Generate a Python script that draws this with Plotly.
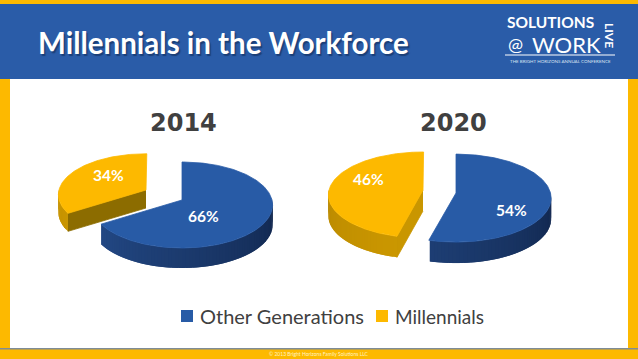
import numpy as np
import plotly.graph_objects as go

# --- data ---
categories = ["Other Generations", "Millennials"]
years = ["2014", "2020"]
values_2014 = [66, 34]
values_2020 = [54, 46]

# --- style ---
BLUE, GOLD = "#285BA6", "#FDB900"
BG_BLUE = "#2A5CA8"
INK = "#404040"
K = 0.116   # perspective
STEP = 2

fig = go.Figure()


def lerp(c1, c2, t):
    a = [int(c1[i:i + 2], 16) for i in (1, 3, 5)]
    b = [int(c2[i:i + 2], 16) for i in (1, 3, 5)]
    return "#%02x%02x%02x" % tuple(int(round(x + (y - x) * t)) for x, y in zip(a, b))


def rim(deg, g):
    th = np.radians(deg)
    s = 1 - K * np.cos(th)
    return g["cx"] + g["rx"] * np.sin(th) * s, g["cy"] - g["ry"] * np.cos(th) * s


def poly(xs, ys, color, width=0.8):
    fig.add_trace(go.Scatter(x=list(xs), y=list(ys), mode="lines", fill="toself", fillcolor=color,
                             line=dict(color=color, width=width), hoverinfo="skip", showlegend=False))


def slice3d(start, end, g, color, wall_a, wall_b, cut=None):
    # outer wall: only the part facing the viewer (90..270 deg clockwise from top)
    w0, w1 = max(start, 90), min(end, 270)
    if cut:
        ex, ey = rim(start, g)
        poly([g["cx"], ex, ex, g["cx"]], [g["cy"], ey, ey + g["d"], g["cy"] + g["d"]], cut)
    if w1 > w0:
        edges = np.arange(w0, w1 + STEP, STEP)
        edges[-1] = w1
        for a, b in zip(edges[:-1], edges[1:]):
            # each quad runs to the far end of the next so no seams show
            xa, ya = rim(a, g)
            xb, yb = rim(min(b + STEP, w1), g)
            t = (270 - (a + b) / 2) / 180
            poly([xa, xb, xb, xa], [ya, yb, yb + g["d"], ya + g["d"]], lerp(wall_a, wall_b, t), width=0)
    th = np.arange(start, end + 1, 1.0)
    px, py = rim(th, g)
    poly(np.r_[g["cx"], px, g["cx"]], np.r_[g["cy"], py, g["cy"]], color)


def pie(values, blue_geo, gold_geo, gold_cut, gold_wall):
    split = 360 * values[0] / sum(values)
    slice3d(0, split, blue_geo, BLUE, "#264F90", "#11264C")
    slice3d(split, 360, gold_geo, GOLD, *gold_wall, cut=gold_cut)


pie(values_2014,
    dict(cx=182, cy=200, rx=90, ry=43, d=20),
    dict(cx=146, cy=190, rx=87, ry=41, d=18),
    "#8C6C00", ("#C59200", "#D8A200"))
pie(values_2020,
    dict(cx=456, cy=193, rx=94.5, ry=44, d=21),
    dict(cx=423, cy=190, rx=94, ry=43, d=21),
    "#C99600", ("#B98900", "#E3AA00"))

shapes = [
    dict(type="rect", x0=0, x1=638, y0=4, y1=79, fillcolor=BG_BLUE, line_width=0, layer="below"),
    dict(type="rect", x0=10, x1=628, y0=79, y1=349, fillcolor="#FFFFFF", line_width=0, layer="below"),
    dict(type="rect", x0=0, x1=638, y0=348, y1=349.5, fillcolor="#7F8C96", line_width=0, layer="below"),
    dict(type="line", x0=505, x1=615, y0=55, y1=55, line=dict(color="#FFFFFF", width=1)),
    dict(type="rect", x0=181, x1=193, y0=310, y1=322, fillcolor=BLUE, line_width=0),
    dict(type="rect", x0=376, x1=388, y0=310, y1=322, fillcolor=GOLD, line_width=0),
]


def txt(x, y, s, size, color="#FFFFFF", fam="Lato", anchor="center", shadow=None, **kw):
    font = dict(family=fam, size=size, color=color)
    if shadow:
        font["shadow"] = shadow
    fig.add_annotation(x=x, y=y, text=s, showarrow=False, xanchor=anchor, yanchor="middle",
                       font=font, **kw)


txt(36, 42, "<b>Millennials in the Workforce</b>", 29.5, anchor="left", shadow="1.5px 1.5px 1px #1B3F78")
txt(183, 123, "<b>%s</b>" % years[0], 24, color=INK, fam="DejaVu Sans")
txt(453, 123, "<b>%s</b>" % years[1], 24, color=INK, fam="DejaVu Sans")
txt(108, 175, "<b>%d%%</b>" % values_2014[1], 15.5)
txt(203, 216, "<b>%d%%</b>" % values_2014[0], 15.5)
txt(368, 179, "<b>%d%%</b>" % values_2020[1], 15.5)
txt(511, 210, "<b>%d%%</b>" % values_2020[0], 15.5)
txt(198, 316, categories[0], 20, color=INK, anchor="left")
txt(393, 316, categories[1], 19, color=INK, anchor="left")
txt(319, 354, "© 2013 Bright Horizons Family Solutions LLC", 5, color="#FFF3C4")
# logo
txt(505, 22, "<b>SOLUTIONS</b>", 15.5, anchor="left")
txt(530, 44, "WORK", 22, anchor="left")
txt(515, 44, "@", 18)
txt(610, 35, "<b>LIVE</b>", 12, textangle=90)
txt(560, 61, "THE BRIGHT HORIZONS ANNUAL CONFERENCE", 4.5, color="#D8E2F2")

fig.update_layout(
    width=638, height=359, margin=dict(l=0, r=0, t=0, b=0), autosize=False,
    paper_bgcolor=GOLD, plot_bgcolor="rgba(0,0,0,0)", showlegend=False, shapes=shapes,
    xaxis=dict(range=[0, 638], visible=False, fixedrange=True),
    yaxis=dict(range=[359, 0], visible=False, fixedrange=True),
)
fig.write_html("out.html", config=dict(displayModeBar=False),
               post_script="document.body.style.margin='0';document.body.style.overflow='hidden';")
